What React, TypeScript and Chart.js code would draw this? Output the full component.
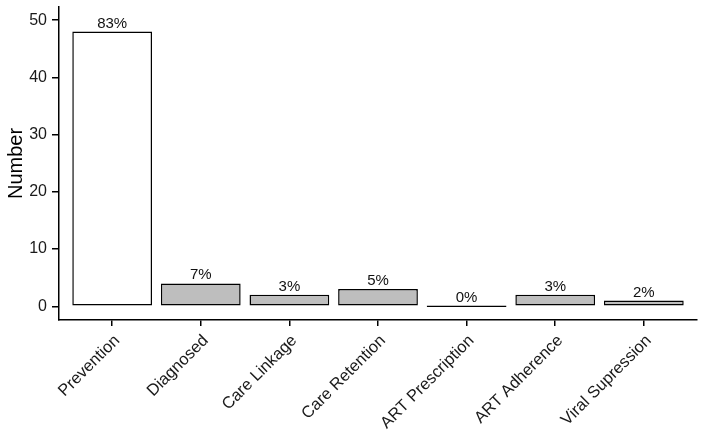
import React, { useEffect, useRef } from "react";
import { Chart, registerables } from "chart.js";

Chart.register(...registerables);

const categories = ["Prevention", "Diagnosed", "Care Linkage", "Care Retention", "ART Prescription", "ART Adherence", "Viral Supression"];
const counts = [48, 4, 2, 3, 0, 2, 1];
const percentLabels = ["83%", "7%", "3%", "5%", "0%", "3%", "2%"];
const fillColors = ["#ffffff", "#bebebe", "#bebebe", "#bebebe", "#bebebe", "#bebebe", "#bebebe"];
const yTicks = [0, 10, 20, 30, 40, 50];

const FONT = "'Liberation Sans', Arial, Helvetica, sans-serif";

const labelPlugin = {
  id: "pctLabels",
  afterDatasetsDraw(chart: any) {
    const ctx = chart.ctx;
    const meta = chart.getDatasetMeta(0);
    ctx.save();
    ctx.font = `15px ${FONT}`;
    ctx.fillStyle = "#111";
    ctx.textAlign = "center";
    ctx.textBaseline = "alphabetic";
    meta.data.forEach((bar: any, i: number) => {
      const top = Math.min(bar.y, bar.base);
      ctx.fillText(percentLabels[i], bar.x, top - 4);
    });
    ctx.restore();
  },
};

export default function App() {
  const ref = useRef<HTMLCanvasElement>(null);
  useEffect(() => {
    document.body.style.margin = "0";
    const chart = new Chart(ref.current!, {
      type: "bar",
      data: {
        datasets: [
          {
            data: counts.map((v, i) => ({ x: i, y: v })),
            backgroundColor: fillColors,
            borderColor: "#000",
            borderWidth: 1.5,
            borderSkipped: false,
            minBarLength: 1.5,
            barPercentage: 0.9,
            categoryPercentage: 1,
          } as any,
        ],
      },
      options: {
        animation: false,
        responsive: false,
        maintainAspectRatio: false,
        layout: { padding: { top: 7, right: 7, left: 0, bottom: 0 } },
        plugins: { legend: { display: false }, tooltip: { enabled: false } },
        scales: {
          x: {
            type: "linear",
            min: -0.6,
            max: 6.6,
            offset: false,
            afterFit: (s: any) => { s.height = 119; s.paddingLeft = 0; s.paddingRight = 0; },
            afterBuildTicks: (s: any) => { s.ticks = categories.map((_, i) => ({ value: i })); },
            ticks: {
              stepSize: 1,
              includeBounds: false,
              autoSkip: false,
              minRotation: 45,
              maxRotation: 45,
              padding: 5,
              labelOffset: 5,
              color: "#1a1a1a",
              font: { family: FONT, size: 16.5 },
              callback: (v: any) => categories[v] ?? "",
            },
            grid: { display: true, offset: false, drawOnChartArea: false, drawTicks: true, tickLength: 6, color: "#000", lineWidth: 1.5 },
            border: { display: true, color: "#000", width: 1.5 },
          },
          y: {
            type: "linear",
            min: -2.4,
            max: 52.3,
            afterFit: (s: any) => { s.width = 59; s.paddingTop = 0; s.paddingBottom = 0; },
            afterBuildTicks: (s: any) => { s.ticks = yTicks.map((v) => ({ value: v })); },
            ticks: {
              includeBounds: false,
              padding: 5,
              color: "#1a1a1a",
              font: { family: FONT, size: 16 },
            },
            title: { display: true, text: "Number", color: "#000", font: { family: FONT, size: 20 }, padding: { top: 4, bottom: 0 } },
            grid: { display: true, drawOnChartArea: false, drawTicks: true, tickLength: 7, color: "#000", lineWidth: 1.5 },
            border: { display: true, color: "#000", width: 1.5 },
          },
        },
      } as any,
      plugins: [labelPlugin],
    });
    return () => chart.destroy();
  }, []);
  return (
    <div style={{ width: 704, height: 439 }}>
      <canvas ref={ref} width={704} height={439} style={{ display: "block" }} />
    </div>
  );
}
